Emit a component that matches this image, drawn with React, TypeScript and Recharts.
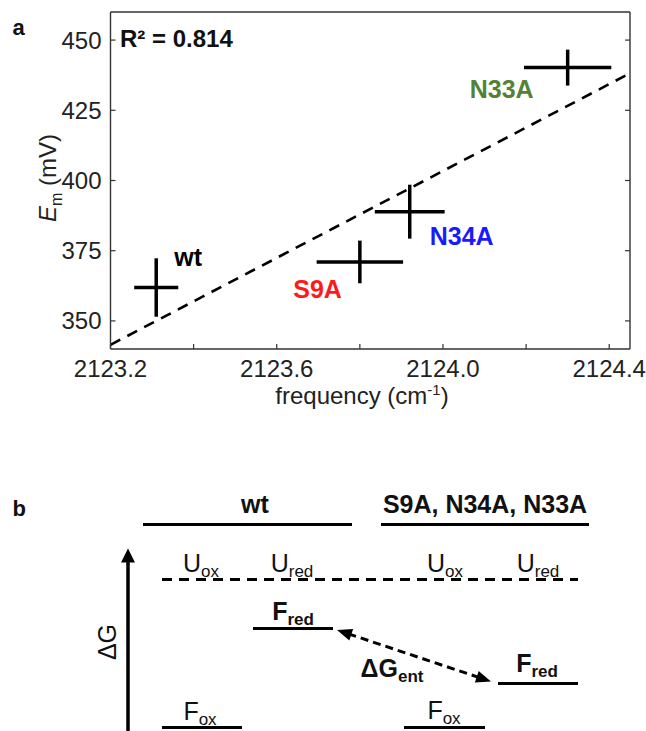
import React from "react";
import { ScatterChart, Scatter, XAxis, YAxis, ErrorBar, ReferenceLine } from "recharts";

const FONT = "'Liberation Sans', Arial, Helvetica, sans-serif";
const INK = "#111";
const FRAME = "#333";

// ---- panel a: midpoint potential vs. nitrile stretch frequency ----
const variants = ["wt", "S9A", "N34A", "N33A"];
const frequency = [2123.31, 2123.8, 2123.92, 2124.3];
const frequencyErr = [0.053, 0.104, 0.084, 0.105];
const potential = [361.9, 371.0, 388.9, 440.2];
const potentialErr = [10.4, 7.6, 9.6, 6.4];
const fitFrequency = [2123.2, 2124.45];
const fitPotential = [341.5, 438.2];
const freqTicks = [2123.2, 2123.4, 2123.6, 2123.8, 2124.0, 2124.2, 2124.4];
const freqLabelled = [2123.2, 2123.6, 2124.0, 2124.4];
const potentialTicks = [350, 375, 400, 425, 450];
const rSquared = "0.814";

// colour / placement of each variant name relative to its cross
const variantLabel: Record<string, { color: string; dx: number; dy: number; anchor: "start" | "end" }> = {
  wt: { color: "#000", dx: 18, dy: -21, anchor: "start" },
  S9A: { color: "#ff1a1a", dx: -18, dy: 36, anchor: "end" },
  N34A: { color: "#1a1aff", dx: 20, dy: 33, anchor: "start" },
  N33A: { color: "#548235", dx: -34, dy: 30, anchor: "end" },
};

// ---- panel b: free-energy level diagram (arbitrary units) ----
const headerLines = [
  { x0: 143, x1: 352, g: 203 },
  { x0: 381, x1: 589, g: 203 },
];
const foldedLevels = [
  { x0: 162, x1: 242, g: 0 }, // wt F_ox
  { x0: 253, x1: 333, g: 99 }, // wt F_red
  { x0: 404, x1: 485, g: 0 }, // mutant F_ox
  { x0: 498, x1: 578, g: 44 }, // mutant F_red
];
const unfoldedLevel = { x0: 162, x1: 578, g: 148 };
const levelText = [
  { main: "wt", sub: "", bold: true, x: 255, g: 214.5 },
  { main: "S9A, N34A, N33A", sub: "", bold: true, x: 485, g: 214.5 },
  { main: "U", sub: "ox", bold: false, x: 201, g: 156 },
  { main: "U", sub: "red", bold: false, x: 292, g: 156 },
  { main: "U", sub: "ox", bold: false, x: 445, g: 156 },
  { main: "U", sub: "red", bold: false, x: 538, g: 156 },
  { main: "F", sub: "red", bold: true, x: 293, g: 107.5 },
  { main: "F", sub: "ox", bold: false, x: 200, g: 7.5 },
  { main: "F", sub: "red", bold: true, x: 537, g: 56 },
  { main: "F", sub: "ox", bold: false, x: 444, g: 8.5 },
  { main: "ΔG", sub: "ent", bold: true, x: 392, g: 50.5 },
];
const entropyArrow = [
  { x: 337, g: 97.5 },
  { x: 491, g: 46 },
];
const energyAxis = [
  { x: 128, g: -6 },
  { x: 128, g: 179 },
];

const points = variants.map((name, i) => ({
  name,
  f: frequency[i],
  fErr: frequencyErr[i],
  e: potential[i],
  eErr: potentialErr[i],
}));

const TICK = 5;
const tickText = { fontSize: 24, fill: "#222", fontFamily: FONT };

// inward-pointing ticks, drawn by hand so the labels stay outside the frame
function TickMark(props: any) {
  const { x, y, payload, side } = props;
  const v = payload.value as number;
  if (side === "bottom") {
    const lab = freqLabelled.some((t) => Math.abs(t - v) < 1e-6) ? v.toFixed(1) : "";
    return (
      <g>
        <line x1={x} y1={y} x2={x} y2={y - TICK} stroke={FRAME} strokeWidth={1.2} />
        <text x={x} y={y + 28} textAnchor="middle" {...tickText}>
          {lab}
        </text>
      </g>
    );
  }
  if (side === "top") return <line x1={x} y1={y} x2={x} y2={y + TICK} stroke={FRAME} strokeWidth={1.2} />;
  if (side === "left") {
    return (
      <g>
        <line x1={x} y1={y} x2={x + TICK} y2={y} stroke={FRAME} strokeWidth={1.2} />
        <text x={x - 9} y={y + 8.5} textAnchor="end" {...tickText}>
          {v}
        </text>
      </g>
    );
  }
  return <line x1={x} y1={y} x2={x - TICK} y2={y} stroke={FRAME} strokeWidth={1.2} />;
}

function CrossLabel(props: any) {
  const { cx, cy, payload } = props;
  const s = variantLabel[payload.name];
  return (
    <text x={cx + s.dx} y={cy + s.dy} textAnchor={s.anchor} fill={s.color} fontSize={25} fontWeight="bold" fontFamily={FONT}>
      {payload.name}
    </text>
  );
}

function LevelText(props: any) {
  const { cx, cy, payload } = props;
  return (
    <text x={cx} y={cy} textAnchor="middle" fill={INK} fontSize={25} fontWeight={payload.bold ? "bold" : "normal"} fontFamily={FONT}>
      {payload.main}
      {payload.sub ? (
        <tspan dy={5} fontSize={17}>
          {payload.sub}
        </tspan>
      ) : null}
    </text>
  );
}

function Arrow(props: any) {
  const { x1, y1, x2, y2, both, dash, w, headL, headW } = props;
  const len = Math.hypot(x2 - x1, y2 - y1);
  const ux = (x2 - x1) / len;
  const uy = (y2 - y1) / len;
  const head = (tx: number, ty: number, dx: number, dy: number) => {
    const bx = tx - dx * headL;
    const by = ty - dy * headL;
    return `${tx},${ty} ${bx - dy * headW},${by + dx * headW} ${bx + dy * headW},${by - dx * headW}`;
  };
  const sx = both ? x1 + ux * headL * 0.8 : x1;
  const sy = both ? y1 + uy * headL * 0.8 : y1;
  return (
    <g>
      <line x1={sx} y1={sy} x2={x2 - ux * headL * 0.8} y2={y2 - uy * headL * 0.8} stroke="#000" strokeWidth={w} strokeDasharray={dash} />
      <polygon points={head(x2, y2, ux, uy)} fill="#000" />
      {both ? <polygon points={head(x1, y1, -ux, -uy)} fill="#000" /> : null}
    </g>
  );
}

export default function App() {
  return (
    <div style={{ position: "absolute", left: 0, top: 0, width: 646, height: 731, background: "#fff", fontFamily: FONT }}>
      <div style={{ position: "absolute", left: 0, top: 0 }}>
        <ScatterChart width={646} height={420} margin={{ top: 11, right: 15, bottom: 0, left: 0 }}>
          <XAxis
            xAxisId={0}
            type="number"
            dataKey="f"
            domain={[2123.2, 2124.45]}
            allowDataOverflow
            ticks={freqTicks}
            interval={0}
            height={71}
            tickSize={0}
            tickMargin={0}
            tickLine={false}
            stroke={FRAME}
            strokeWidth={1.4}
            tick={(p: any) => <TickMark {...p} side="bottom" />}
            label={{
              content: () => (
                <text x={362} y={404} textAnchor="middle" fontSize={24} fill="#222" fontFamily={FONT}>
                  frequency (cm
                  <tspan dy={-9} fontSize={15}>
                    -1
                  </tspan>
                  <tspan dy={9}>)</tspan>
                </text>
              ),
            }}
          />
          <XAxis
            xAxisId="top"
            orientation="top"
            type="number"
            domain={[2123.2, 2124.45]}
            allowDataOverflow
            ticks={freqTicks}
            interval={0}
            height={1}
            tickSize={0}
            tickMargin={0}
            tickLine={false}
            stroke={FRAME}
            strokeWidth={1.4}
            tick={(p: any) => <TickMark {...p} side="top" />}
          />
          <YAxis
            yAxisId={0}
            type="number"
            dataKey="e"
            domain={[340, 460]}
            allowDataOverflow
            ticks={potentialTicks}
            interval={0}
            width={110.5}
            tickSize={0}
            tickMargin={0}
            tickLine={false}
            stroke={FRAME}
            strokeWidth={1.4}
            tick={(p: any) => <TickMark {...p} side="left" />}
            label={{
              content: () => (
                <text transform="translate(56,178) rotate(-90)" textAnchor="middle" fontSize={24} fill="#222" fontFamily={FONT}>
                  <tspan fontStyle="italic">E</tspan>
                  <tspan dy={6} fontSize={16}>
                    m
                  </tspan>
                  <tspan dy={-6}> (mV)</tspan>
                </text>
              ),
            }}
          />
          <YAxis
            yAxisId="right"
            orientation="right"
            type="number"
            domain={[340, 460]}
            allowDataOverflow
            ticks={potentialTicks}
            interval={0}
            width={1}
            tickSize={0}
            tickMargin={0}
            tickLine={false}
            stroke={FRAME}
            strokeWidth={1.4}
            tick={(p: any) => <TickMark {...p} side="right" />}
          />
          <ReferenceLine
            segment={[
              { x: fitFrequency[0], y: fitPotential[0] },
              { x: fitFrequency[1], y: fitPotential[1] },
            ]}
            stroke="#000"
            strokeWidth={2.6}
            strokeDasharray="11 8"
            ifOverflow="visible"
          />
          <Scatter data={points} dataKey="e" shape={CrossLabel} isAnimationActive={false}>
            <ErrorBar dataKey="fErr" direction="x" width={0} stroke="#000" strokeWidth={3.5} />
            <ErrorBar dataKey="eErr" direction="y" width={0} stroke="#000" strokeWidth={3.5} />
          </Scatter>
          <text x={120} y={46.5} fontSize={24} fontWeight="bold" fill={INK} fontFamily={FONT}>
            {`R² = ${rSquared}`}
          </text>
          <text x={12.5} y={35} fontSize={22} fontWeight="bold" fill={INK} fontFamily={FONT}>
            a
          </text>
        </ScatterChart>
      </div>

      <div style={{ position: "absolute", left: 0, top: 440 }}>
        <ScatterChart width={646} height={291} margin={{ top: 0, right: 0, bottom: 0, left: 0 }}>
          <XAxis type="number" dataKey="x" domain={[0, 646]} hide />
          <YAxis type="number" dataKey="g" domain={[-3.5, 287.5]} hide />
          {headerLines.concat(foldedLevels).map((l, i) => (
            <ReferenceLine
              key={i}
              segment={[
                { x: l.x0, y: l.g },
                { x: l.x1, y: l.g },
              ]}
              stroke="#000"
              strokeWidth={3}
              ifOverflow="visible"
            />
          ))}
          <ReferenceLine
            segment={[
              { x: unfoldedLevel.x0, y: unfoldedLevel.g },
              { x: unfoldedLevel.x1, y: unfoldedLevel.g },
            ]}
            stroke="#000"
            strokeWidth={3}
            strokeDasharray="10 7"
            ifOverflow="visible"
          />
          <ReferenceLine
            segment={[
              { x: entropyArrow[0].x, y: entropyArrow[0].g },
              { x: entropyArrow[1].x, y: entropyArrow[1].g },
            ]}
            ifOverflow="visible"
            shape={(p: any) => <Arrow {...p} both dash="8 5" w={3} headL={15} headW={6} />}
          />
          <ReferenceLine
            segment={[
              { x: energyAxis[0].x, y: energyAxis[0].g },
              { x: energyAxis[1].x, y: energyAxis[1].g },
            ]}
            ifOverflow="visible"
            shape={(p: any) => <Arrow {...p} both={false} w={3.5} headL={14} headW={7} />}
          />
          <Scatter data={levelText} dataKey="g" shape={LevelText} isAnimationActive={false} />
          <text transform="translate(116,202) rotate(-90)" textAnchor="middle" fontSize={25} fill={INK} fontFamily={FONT}>
            ΔG
          </text>
          <text x={12.5} y={76} fontSize={22} fontWeight="bold" fill={INK} fontFamily={FONT}>
            b
          </text>
        </ScatterChart>
      </div>
    </div>
  );
}
